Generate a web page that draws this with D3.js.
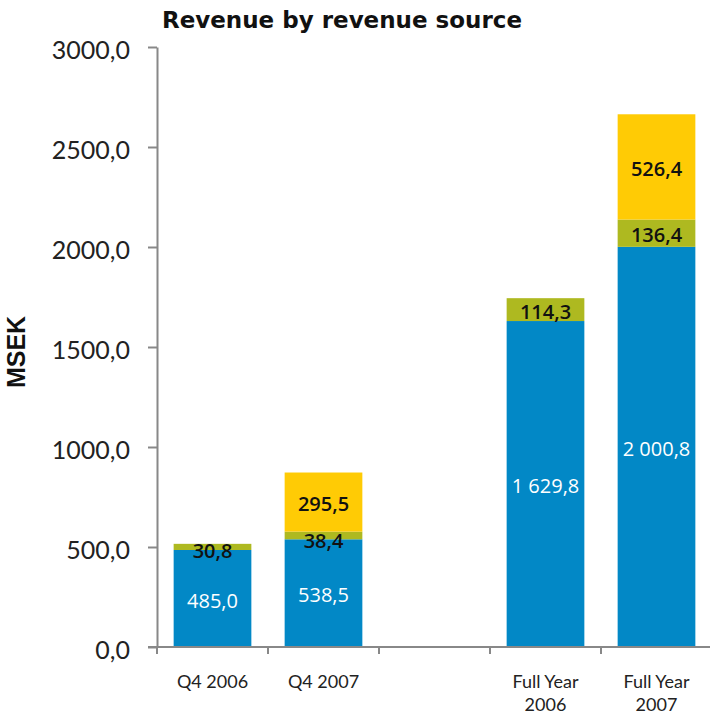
<!DOCTYPE html>
<html>
<head>
<meta charset="utf-8">
<script src="https://cdn.jsdelivr.net/npm/d3@7"></script>
<style>
  body { margin: 0; background: #fff; }
  svg { display: block; }
</style>
</head>
<body>
<svg id="chart"></svg>
<script>
const categories = ["Q4 2006", "Q4 2007", "", "Full Year 2006", "Full Year 2007"];
const seriesKeys = ["base", "second", "third"];
const baseValues = [485.0, 538.5, null, 1629.8, 2000.8];
const secondValues = [30.8, 38.4, null, 114.3, 136.4];
const thirdValues = [0, 295.5, null, 0, 526.4];
const yTicks = [0, 500, 1000, 1500, 2000, 2500, 3000];

const width = 710;
const height = 715;
const margin = { top: 47, right: -2, bottom: 68, left: 157 };

const colors = { base: "#0288c6", second: "#aeb920", third: "#ffcb05" };
const labelColors = { base: "#ffffff", second: "#111111", third: "#111111" };

const rows = categories.map((c, i) => ({
  key: "c" + i,
  label: c,
  base: baseValues[i] || 0,
  second: secondValues[i] || 0,
  third: thirdValues[i] || 0,
  empty: baseValues[i] == null
}));

const svg = d3.select("#chart")
  .attr("width", width)
  .attr("height", height);

const x = d3.scaleBand()
  .domain(rows.map(d => d.key))
  .range([margin.left, width - margin.right])
  .paddingInner(0.3)
  .paddingOuter(0.15);

const y = d3.scaleLinear()
  .domain([0, 3000])
  .range([height - margin.bottom, margin.top]);

// "1629.8" -> "1 629,8"
const fmt = v => {
  const [int, dec] = v.toFixed(1).split(".");
  return int.replace(/\B(?=(\d{3})+(?!\d))/g, " ") + "," + dec;
};

// title
svg.append("text")
  .attr("x", 342)
  .attr("y", 28)
  .attr("text-anchor", "middle")
  .style("font-family", "'DejaVu Sans', sans-serif")
  .style("font-weight", "bold")
  .style("font-size", "23px")
  .attr("fill", "#111")
  .text("Revenue by revenue source");

// y axis title
svg.append("text")
  .attr("transform", "translate(25,352) rotate(-90)")
  .attr("text-anchor", "middle")
  .style("font-family", "'Liberation Sans', Arial, sans-serif")
  .style("font-weight", "bold")
  .style("font-size", "25px")
  .attr("fill", "#111")
  .text("MSEK");

// y axis
const yAxis = svg.append("g")
  .attr("transform", `translate(${margin.left},0)`)
  .call(d3.axisLeft(y).tickValues(yTicks).tickSize(9).tickSizeOuter(0).tickPadding(18)
    .tickFormat(d => d.toFixed(1).replace(".", ",")));
yAxis.select(".domain").attr("stroke", "#888").attr("stroke-width", 2);
yAxis.selectAll(".tick line").attr("stroke", "#888").attr("stroke-width", 2);
yAxis.selectAll(".tick text")
  .attr("dy", "0.45em")
  .style("font-family", "Lato, 'Open Sans', sans-serif")
  .style("font-size", "25px")
  .attr("fill", "#222");

// stacked bars
const stacked = d3.stack().keys(seriesKeys)(rows);

stacked.forEach(layer => {
  svg.append("g").selectAll("rect")
    .data(layer.filter(d => !d.data.empty && d[1] > d[0]))
    .enter()
    .append("rect")
    .attr("x", d => x(d.data.key))
    .attr("width", x.bandwidth())
    .attr("y", d => y(d[1]))
    .attr("height", d => y(d[0]) - y(d[1]))
    .attr("fill", colors[layer.key]);
});

// value labels (small segments sit on their lower edge)
stacked.forEach(layer => {
  svg.append("g").selectAll("text")
    .data(layer.filter(d => !d.data.empty && d[1] > d[0]))
    .enter()
    .append("text")
    .attr("x", d => x(d.data.key) + x.bandwidth() / 2)
    .attr("y", d => d[1] - d[0] < 60 ? y(d[0]) + 1 : (y(d[0]) + y(d[1])) / 2 + 2)
    .attr("dy", "0.36em")
    .attr("text-anchor", "middle")
    .style("font-family", "'Open Sans', 'Noto Sans', sans-serif")
    .style("font-weight", layer.key === "base" ? 500 : 600)
    .style("font-size", "20px")
    .attr("fill", labelColors[layer.key])
    .text(d => fmt(d[1] - d[0]));
});

// x axis
const x0 = y(0);
const xAxis = svg.append("g");
xAxis.append("line")
  .attr("x1", margin.left - 9).attr("x2", width)
  .attr("y1", x0).attr("y2", x0)
  .attr("stroke", "#888").attr("stroke-width", 2);
const step = x.step();
const edges = d3.range(categories.length).map(i => margin.left + i * step);
xAxis.selectAll(".xt")
  .data(edges)
  .enter()
  .append("line")
  .attr("x1", d => d).attr("x2", d => d)
  .attr("y1", x0).attr("y2", x0 + 7)
  .attr("stroke", "#888").attr("stroke-width", 2);

const xl = xAxis.selectAll(".xl")
  .data(rows.filter(d => d.label))
  .enter()
  .append("text")
  .attr("text-anchor", "middle")
  .attr("x", d => x(d.key) + x.bandwidth() / 2)
  .attr("y", 688)
  .style("font-family", "Lato, 'Open Sans', sans-serif")
  .style("font-size", "18px")
  .attr("fill", "#222");
xl.each(function(d) {
  const parts = d.label.startsWith("Full Year") ? ["Full Year", d.label.slice(10)] : [d.label];
  const t = d3.select(this);
  parts.forEach((p, i) => {
    t.append("tspan").attr("x", x(d.key) + x.bandwidth() / 2).attr("dy", i === 0 ? 0 : 23).text(p);
  });
});
</script>
</body>
</html>
